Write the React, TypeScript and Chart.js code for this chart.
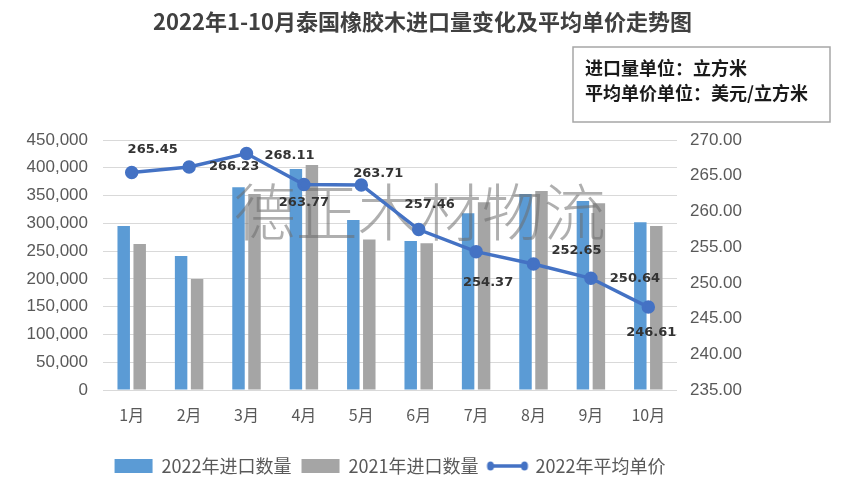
import React, { useEffect, useRef } from 'react';
import { Chart, registerables } from 'chart.js';

Chart.register(...registerables);

const chartTitle = '2022年1-10月泰国橡胶木进口量变化及平均单价走势图';
const unitLines = ['进口量单位：立方米', '平均单价单位：美元/立方米'];
const watermarkText = '德正木材物流';
const months = ['1月', '2月', '3月', '4月', '5月', '6月', '7月', '8月', '9月', '10月'];
const import2022 = [295000, 241000, 365000, 398000, 306000, 268000, 318000, 353000, 340000, 302000];
const import2021 = [263000, 200000, 353000, 405000, 271000, 264000, 338000, 358000, 336000, 295000];
const price2022 = [265.45, 266.23, 268.11, 263.77, 263.71, 257.46, 254.37, 252.65, 250.64, 246.61];
const seriesNames = ['2022年进口数量', '2021年进口数量', '2022年平均单价'];
const leftAxis = { min: 0, max: 450000, step: 50000 };
const rightAxis = { min: 235, max: 270, step: 5 };
// label offsets (relative to each price point), styling only
const priceLabelOffsets = [
  [21, -23], [45, 0], [43, 2], [0, 18], [17, -11],
  [11, -25], [12, 31], [43, -13], [44, 0], [3, 26],
];

const BLUE = '#5B9BD5';
const GRAY = '#A5A5A5';
const LINE = '#4472C4';
const TICK = '#595959';
const NUM_FONT = '"Liberation Sans", Arial, sans-serif';
const CJK_FONT = '"Noto Sans CJK SC", "Noto Sans", sans-serif';

export default function App() {
  const ref = useRef<HTMLCanvasElement | null>(null);

  useEffect(() => {
    if (!ref.current) return;

    const icon = document.createElement('canvas');
    icon.width = 44;
    icon.height = 12;
    const ic = icon.getContext('2d')!;
    ic.strokeStyle = LINE;
    ic.fillStyle = LINE;
    ic.lineWidth = 3.5;
    ic.beginPath();
    ic.moveTo(5, 6);
    ic.lineTo(39, 6);
    ic.stroke();
    [5, 39].forEach((cx) => {
      ic.beginPath();
      ic.ellipse(cx, 6, 3.5, 4.5, 0, 0, Math.PI * 2);
      ic.fill();
    });

    const decor = {
      id: 'decor',
      beforeDraw(chart: any) {
        const { ctx, width, height } = chart;
        ctx.save();
        ctx.fillStyle = '#ffffff';
        ctx.fillRect(0, 0, width, height);
        ctx.restore();
      },
      beforeDatasetDraw(chart: any, args: any) {
        if (args.index !== 0) return;
        const { ctx, chartArea } = chart;
        ctx.save();
        ctx.font = `300 62px ${CJK_FONT}`;
        ctx.fillStyle = 'rgba(110,110,110,0.55)';
        ctx.textAlign = 'center';
        ctx.textBaseline = 'middle';
        ctx.fillText(
          watermarkText,
          chartArea.left + chartArea.width * 0.552,
          chartArea.top + chartArea.height * 0.29
        );
        ctx.restore();
      },
      afterDatasetsDraw(chart: any) {
        const { ctx } = chart;
        const meta = chart.getDatasetMeta(0);
        ctx.save();
        ctx.font = `bold 13px "DejaVu Sans", sans-serif`;
        ctx.fillStyle = '#333333';
        ctx.textAlign = 'center';
        ctx.textBaseline = 'middle';
        meta.data.forEach((pt: any, i: number) => {
          const [dx, dy] = priceLabelOffsets[i];
          ctx.fillText(price2022[i].toFixed(2), pt.x + dx, pt.y + dy);
        });
        ctx.restore();
      },
      afterDraw(chart: any) {
        const { ctx, width } = chart;
        ctx.save();
        ctx.font = `bold 22px ${CJK_FONT}`;
        ctx.fillStyle = '#404040';
        ctx.textAlign = 'center';
        ctx.textBaseline = 'middle';
        ctx.fillText(chartTitle, width / 2, 22);

        // unit box
        ctx.fillStyle = '#ffffff';
        ctx.strokeStyle = '#a6a6a6';
        ctx.lineWidth = 1.5;
        ctx.fillRect(573, 47, 257, 75);
        ctx.strokeRect(573, 47, 257, 75);
        ctx.font = `bold 18px ${CJK_FONT}`;
        ctx.fillStyle = '#1a1a1a';
        ctx.textAlign = 'left';
        ctx.fillText(unitLines[0], 585, 68);
        ctx.fillText(unitLines[1], 585, 93);
        ctx.restore();
      },
    };

    const chart = new Chart(ref.current, {
      type: 'bar',
      data: {
        labels: months,
        datasets: [
          {
            type: 'line',
            label: seriesNames[2],
            data: price2022,
            yAxisID: 'y1',
            borderColor: LINE,
            backgroundColor: LINE,
            borderWidth: 3.5,
            pointRadius: 5,
            pointBackgroundColor: LINE,
            pointBorderColor: LINE,
            tension: 0,
          } as any,
          {
            type: 'bar',
            label: seriesNames[0],
            data: import2022,
            yAxisID: 'y',
            backgroundColor: BLUE,
            categoryPercentage: 0.557,
            barPercentage: 0.78,
          },
          {
            type: 'bar',
            label: seriesNames[1],
            data: import2021,
            yAxisID: 'y',
            backgroundColor: GRAY,
            categoryPercentage: 0.557,
            barPercentage: 0.78,
          },
        ],
      },
      options: {
        responsive: false,
        animation: false,
        devicePixelRatio: 1,
        layout: { padding: { top: 140, bottom: 14, left: 0, right: 0 } },
        plugins: {
          title: { display: false },
          tooltip: { enabled: false },
          legend: {
            position: 'bottom',
            fullSize: false,
            labels: {
              usePointStyle: true,
              pointStyleWidth: 38,
              boxHeight: 14,
              padding: 10,
              color: TICK,
              font: { size: 18, family: CJK_FONT },
              generateLabels: () => [
                { text: seriesNames[0], fillStyle: BLUE, strokeStyle: BLUE, lineWidth: 0, pointStyle: 'rect', datasetIndex: 1, hidden: false, fontColor: TICK },
                { text: seriesNames[1], fillStyle: GRAY, strokeStyle: GRAY, lineWidth: 0, pointStyle: 'rect', datasetIndex: 2, hidden: false, fontColor: TICK },
                { text: seriesNames[2], fillStyle: LINE, strokeStyle: LINE, lineWidth: 0, pointStyle: icon as any, datasetIndex: 0, hidden: false, fontColor: TICK },
              ] as any,
            },
          },
        },
        scales: {
          x: {
            grid: { display: false },
            border: { display: false },
            ticks: { color: TICK, font: { size: 16, family: CJK_FONT }, padding: 7 },
            afterFit: (s: any) => { s.height = 57; },
          },
          y: {
            position: 'left',
            min: leftAxis.min,
            max: leftAxis.max,
            grid: { color: '#d9d9d9', lineWidth: 1, drawTicks: false },
            border: { display: false },
            ticks: {
              stepSize: leftAxis.step,
              color: TICK,
              padding: 15,
              font: { size: 17, family: NUM_FONT },
              callback: (v: any) => Number(v).toLocaleString('en-US'),
            },
            afterFit: (s: any) => { s.width = 103; },
          },
          y1: {
            position: 'right',
            min: rightAxis.min,
            max: rightAxis.max,
            grid: { display: false, drawTicks: false },
            border: { display: false },
            ticks: {
              stepSize: rightAxis.step,
              color: TICK,
              padding: 13,
              font: { size: 17, family: NUM_FONT },
              callback: (v: any) => Number(v).toFixed(2),
            },
            afterFit: (s: any) => { s.width = 168; },
          },
        },
      },
      plugins: [decor],
    });

    return () => chart.destroy();
  }, []);

  return (
    <div style={{ position: 'absolute', left: 0, top: 0, width: 845, height: 499, background: '#fff' }}>
      <canvas ref={ref} width={845} height={499} style={{ display: 'block' }} />
    </div>
  );
}
